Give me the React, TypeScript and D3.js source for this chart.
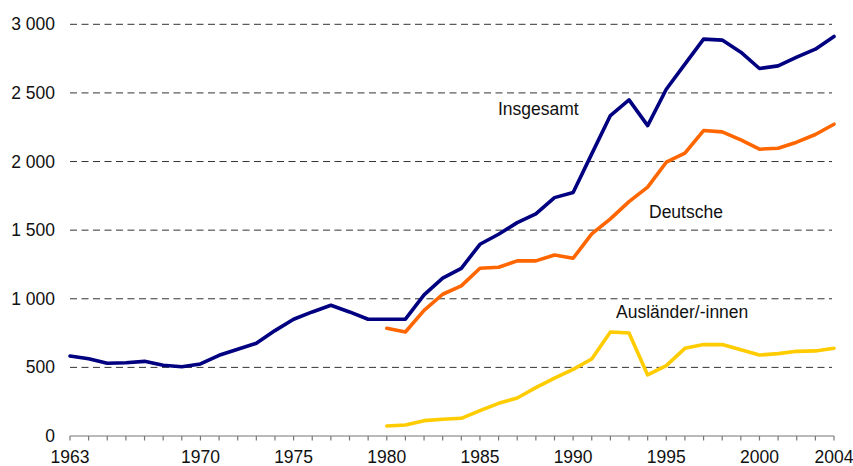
import React from "react";
import * as d3 from "d3";

// Jahre und Werte
const years = d3.range(1963, 2005);
const insgesamt = [
  583, 563, 530, 534, 544, 515, 505, 525, 588, 632, 676, 768, 851, 904, 953, 904, 851, 851, 851,
  1028, 1150, 1222, 1397, 1470, 1555, 1618, 1737, 1774, 2056, 2335, 2449, 2262, 2527, 2710, 2892,
  2885, 2797, 2678, 2697, 2761, 2819, 2911,
];
const deutscheYears = d3.range(1980, 2005);
const deutsche = [
  785, 758, 915, 1033, 1094, 1222, 1230, 1276, 1276, 1319, 1295, 1473, 1582, 1708, 1813, 1995,
  2061, 2226, 2216, 2158, 2090, 2097, 2141, 2197, 2272,
];
const auslaender = [
  73, 80, 112, 122, 129, 185, 238, 277, 352, 421, 486, 561, 758, 751, 445, 513, 639, 666, 666,
  629, 590, 600, 617, 620, 639,
];
const yTicks = [0, 500, 1000, 1500, 2000, 2500, 3000];
const xLabels = [1963, 1970, 1975, 1980, 1985, 1990, 1995, 2000, 2004];

const W = 853;
const H = 466;
const font = "'Liberation Sans', Arial, sans-serif";

export default function App() {
  const x = d3.scaleLinear().domain([1963, 2004]).range([70, 834]);
  const y = d3.scaleLinear().domain([0, 3000]).range([436, 24.3]);
  const line = d3
    .line<[number, number]>()
    .x((d) => x(d[0]))
    .y((d) => y(d[1]));

  const series = [
    { name: "Insgesamt", color: "#000080", pts: years.map((yr, i) => [yr, insgesamt[i]] as [number, number]) },
    { name: "Deutsche", color: "#ff6600", pts: deutscheYears.map((yr, i) => [yr, deutsche[i]] as [number, number]) },
    { name: "Ausländer/-innen", color: "#ffcc00", pts: deutscheYears.map((yr, i) => [yr, auslaender[i]] as [number, number]) },
  ];

  const fmt = (v: number) => (v >= 1000 ? `${Math.floor(v / 1000)} ${String(v % 1000).padStart(3, "0")}` : `${v}`);

  return (
    <svg
      width={W}
      height={H}
      style={{ position: "absolute", left: 0, top: 0, background: "#fff" }}
      fontFamily={font}
    >
      {/* Gitterlinien */}
      {yTicks.filter((t) => t > 0).map((t) => (
        <line key={t} x1={70} x2={832} y1={y(t)} y2={y(t)} stroke="#333" strokeWidth={1} strokeDasharray="7,4.5" />
      ))}
      {/* Y-Beschriftung */}
      {yTicks.map((t) => (
        <text key={t} x={55} y={y(t) + 6} textAnchor="end" fontSize={17.5} fill="#111">
          {fmt(t)}
        </text>
      ))}
      {/* X-Achse */}
      <line x1={70} x2={834} y1={y(0)} y2={y(0)} stroke="#777" strokeWidth={1.2} />
      {years.map((yr) => (
        <line key={yr} x1={x(yr)} x2={x(yr)} y1={y(0)} y2={y(0) + 4.5} stroke="#777" strokeWidth={1.2} />
      ))}
      {xLabels.map((yr) => (
        <text key={yr} x={x(yr)} y={463} textAnchor="middle" fontSize={17.5} fill="#111">
          {yr}
        </text>
      ))}
      {/* Linien */}
      {series.map((s) => (
        <path key={s.name} d={line(s.pts) ?? ""} fill="none" stroke={s.color} strokeWidth={3.6} strokeLinejoin="round" strokeLinecap="round" />
      ))}
      {/* Beschriftungen */}
      <text x={498} y={115} fontSize={17.5} fill="#111">Insgesamt</text>
      <text x={649} y={218} fontSize={17.5} fill="#111">Deutsche</text>
      <text x={616} y={318} fontSize={17.5} fill="#111">Ausländer/-innen</text>
    </svg>
  );
}
